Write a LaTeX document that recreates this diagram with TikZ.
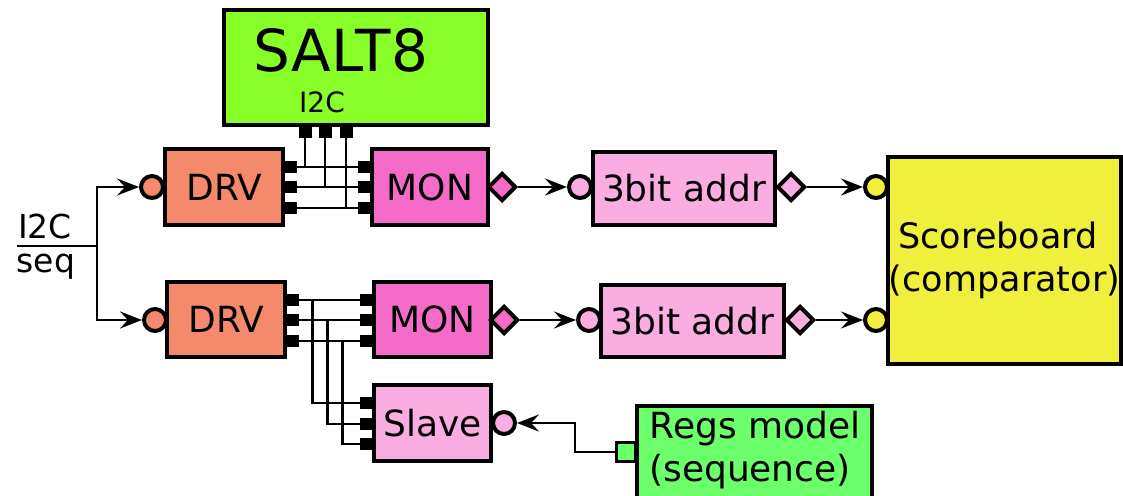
\documentclass[tikz,border=0pt]{standalone}
\usepackage{fontspec}
\setmainfont{DejaVu Sans}
\usetikzlibrary{shapes.geometric,arrows.meta}
\definecolor{saltgreen}{HTML}{89FF2A}
\definecolor{drvcol}{HTML}{F48A6B}
\definecolor{moncol}{HTML}{F46BC9}
\definecolor{lpink}{HTML}{F9ADE0}
\definecolor{sbyellow}{HTML}{EFEF3C}
\definecolor{regsgreen}{HTML}{6CFF6C}
\begin{document}
\begin{tikzpicture}[x=1pt,y=-1pt,
  box/.style={draw,line width=4pt,rectangle,inner sep=0pt,font=\fontsize{36}{43}\selectfont},
  pinsq/.style={fill=black,rectangle,inner sep=0pt,minimum width=14pt,minimum height=12pt},
  port/.style={draw,circle,line width=4pt,inner sep=0pt,minimum size=22pt},
  dia/.style={draw,diamond,line width=4pt,inner sep=0pt,minimum width=28pt,minimum height=28pt},
  wire/.style={line width=2.8pt},
  conn/.style={line width=2.8pt,-{Stealth[length=22pt,width=17pt,inset=8pt]}},
  lbl/.style={inner sep=0pt,font=\fontsize{36}{43}\selectfont}
]
\useasboundingbox (0,0) rectangle (1123,495);

% SALT8
\node[box,fill=saltgreen,minimum width=264pt,minimum height=115pt] (salt) at (356,67.5) {};
\node[lbl,anchor=base,font=\fontsize{58}{62}\selectfont] (salttxt) at (341,71) {SALT8};
\node[lbl,anchor=base,font=\fontsize{28}{30}\selectfont] (salti2c) at (322,112) {I2C};
\node[pinsq,minimum width=13pt] (sp1) at (305,132) {};
\node[pinsq,minimum width=13pt] (sp2) at (325,132) {};
\node[pinsq,minimum width=13pt] (sp3) at (346,132) {};

% top row
\node[box,fill=drvcol,minimum width=118pt,minimum height=76pt] (drv1) at (224,187) {DRV};
\node[port,fill=drvcol] (dc1) at (152,187) {};
\node[pinsq] (d1p1) at (290,167) {};
\node[pinsq] (d1p2) at (290,187) {};
\node[pinsq] (d1p3) at (290,208) {};
\node[box,fill=moncol,minimum width=116pt,minimum height=76pt] (mon1) at (430,187) {MON};
\node[pinsq] (m1p1) at (365,167) {};
\node[pinsq] (m1p2) at (365,187) {};
\node[pinsq] (m1p3) at (365,208) {};
\node[dia,fill=moncol] (md1) at (502,187) {};
\node[box,fill=lpink,minimum width=182pt,minimum height=73pt] (ab1) at (684,188.5) {3bit addr};
\node[port,fill=lpink] (ac1) at (580,187) {};
\node[dia,fill=lpink] (ad1) at (791,187) {};

% scoreboard
\node[box,fill=sbyellow,minimum width=233pt,minimum height=207pt,align=center,font=\fontsize{35}{43}\selectfont] (sb) at (1004.5,260.5) {Scoreboard\hspace*{13pt}\\(comparator)};
\node[port,fill=sbyellow] (sc1) at (876,187) {};
\node[port,fill=sbyellow] (sc2) at (876,320) {};

% bottom row
\node[box,fill=drvcol,minimum width=118pt,minimum height=75pt] (drv2) at (226,319.5) {DRV};
\node[port,fill=drvcol] (dc2) at (155,320) {};
\node[pinsq] (d2p1) at (292,300) {};
\node[pinsq] (d2p2) at (292,320) {};
\node[pinsq] (d2p3) at (292,341) {};
\node[box,fill=moncol,minimum width=117pt,minimum height=75pt] (mon2) at (432.5,319.5) {MON};
\node[pinsq] (m2p1) at (367,300) {};
\node[pinsq] (m2p2) at (367,320) {};
\node[pinsq] (m2p3) at (367,341) {};
\node[dia,fill=moncol] (md2) at (504,320) {};
\node[box,fill=lpink,minimum width=183pt,minimum height=72pt] (ab2) at (692.5,321) {3bit addr};
\node[port,fill=lpink] (ac2) at (589,320) {};
\node[dia,fill=lpink] (ad2) at (800,320) {};

% slave
\node[box,fill=lpink,minimum width=117pt,minimum height=76pt] (slave) at (432.5,423) {Slave};
\node[pinsq] (slp1) at (367,403) {};
\node[pinsq] (slp2) at (367,424) {};
\node[pinsq] (slp3) at (367,444) {};
\node[port,fill=lpink] (slc) at (504,423) {};

% regs model
\node[box,fill=regsgreen,minimum width=235pt,minimum height=96pt] (regs) at (754.5,454) {};
\node[lbl,align=center] (regstxt) at (755,450) {Regs model\\(sequence)\hspace*{10pt}};
\node[draw,line width=3pt,fill=regsgreen,rectangle,inner sep=0pt,minimum size=19pt] (rp) at (626,452) {};

% I2C seq input
\node[lbl,anchor=base,font=\fontsize{33}{36}\selectfont] (i2c) at (45,238) {I2C};
\node[lbl,anchor=base,font=\fontsize{33}{36}\selectfont] (seq) at (46,272) {seq};
\coordinate (barstart) at (17,246);
\coordinate (split) at (97,246);
\draw[wire] (barstart) -- (split);
\draw[conn] (split) |- (dc1.west);
\draw[conn] (split) |- (dc2.west);

% top wiring
\draw[wire] (d1p1.east) -- (m1p1.west);
\draw[wire] (d1p2.east) -- (m1p2.west);
\draw[wire] (d1p3.east) -- (m1p3.west);
\draw[wire] (sp1.south) -- (sp1.south |- d1p1.east);
\draw[wire] (sp2.south) -- (sp2.south |- d1p2.east);
\draw[wire] (sp3.south) -- (sp3.south |- d1p3.east);

% bottom wiring
\draw[wire] (d2p1.east) -- (m2p1.west);
\draw[wire] (d2p2.east) -- (m2p2.west);
\draw[wire] (d2p3.east) -- (m2p3.west);
\draw[wire] (d2p1.east) -- ++(13,0) |- (slp1.west);
\draw[wire] (d2p2.east) -- ++(28,0) |- (slp2.west);
\draw[wire] (d2p3.east) -- ++(43,0) |- (slp3.west);

% data path arrows
\draw[conn] (md1.east) -- (ac1.west);
\draw[conn] (ad1.east) -- (sc1.west);
\draw[conn] (md2.east) -- (ac2.west);
\draw[conn] (ad2.east) -- (sc2.west);
\draw[conn] (rp.west) -- ++(-40,0) |- (slc.east);
\end{tikzpicture}
\end{document}
